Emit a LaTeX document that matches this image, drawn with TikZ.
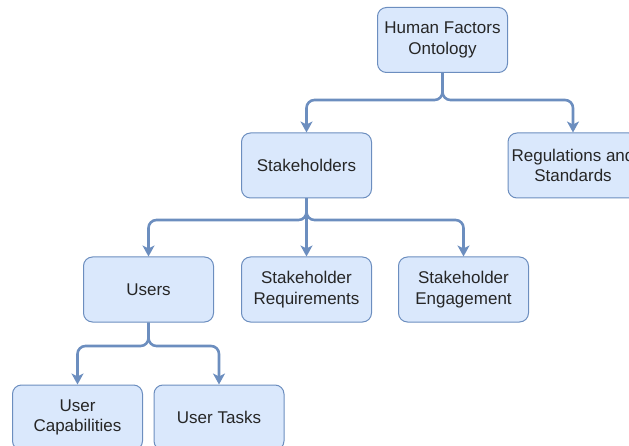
\documentclass[tikz,border=0pt]{standalone}
\usepackage{fontspec}
\setmainfont{Liberation Sans}
\usetikzlibrary{arrows.meta}
\definecolor{boxfill}{HTML}{DAE8FC}
\definecolor{boxline}{HTML}{6C8EBF}
\tikzset{
  box/.style={draw=boxline, fill=boxfill, line width=1pt, rounded corners=9pt,
    minimum width=130pt, minimum height=65pt, align=center, inner sep=2pt,
    font=\fontsize{17}{20.5}\selectfont, text=black!85},
  conn/.style={draw=boxline, line width=2.6pt, rounded corners=8pt,
    -{Stealth[length=11pt,width=12pt,inset=3pt]}}
}
\begin{document}
\begin{tikzpicture}[x=1pt,y=-1pt]
\useasboundingbox (0,0) rectangle (629,446);
\clip (0,0) rectangle (629,446);
\node[box] (hfo) at (442.5,40) {Human Factors\\Ontology};
\node[box] (stk) at (306.5,165.5) {Stakeholders};
\node[box] (reg) at (573,165.5) {Regulations and\\Standards};
\node[box] (usr) at (148.5,289.5) {Users};
\node[box] (req) at (306.5,289.5) {Stakeholder\\Requirements};
\node[box] (eng) at (463.5,289.5) {Stakeholder\\Engagement};
\node[box] (cap) at (77.5,417.5) {User\\Capabilities};
\node[box] (tsk) at (219,417.5) {User Tasks};
\draw[conn] (hfo.south) -- (hfo.south |- 0,100) -| (stk.north);
\draw[conn] (hfo.south) -- (hfo.south |- 0,100) -| (reg.north);
\draw[conn] (stk.south) -- (stk.south |- 0,220) -| (usr.north);
\draw[conn] (stk.south) -- (req.north);
\draw[conn] (stk.south) -- (stk.south |- 0,220) -| (eng.north);
\draw[conn] (usr.south) -- (usr.south |- 0,346) -| (cap.north);
\draw[conn] (usr.south) -- (usr.south |- 0,346) -| (tsk.north);
\end{tikzpicture}
\end{document}
